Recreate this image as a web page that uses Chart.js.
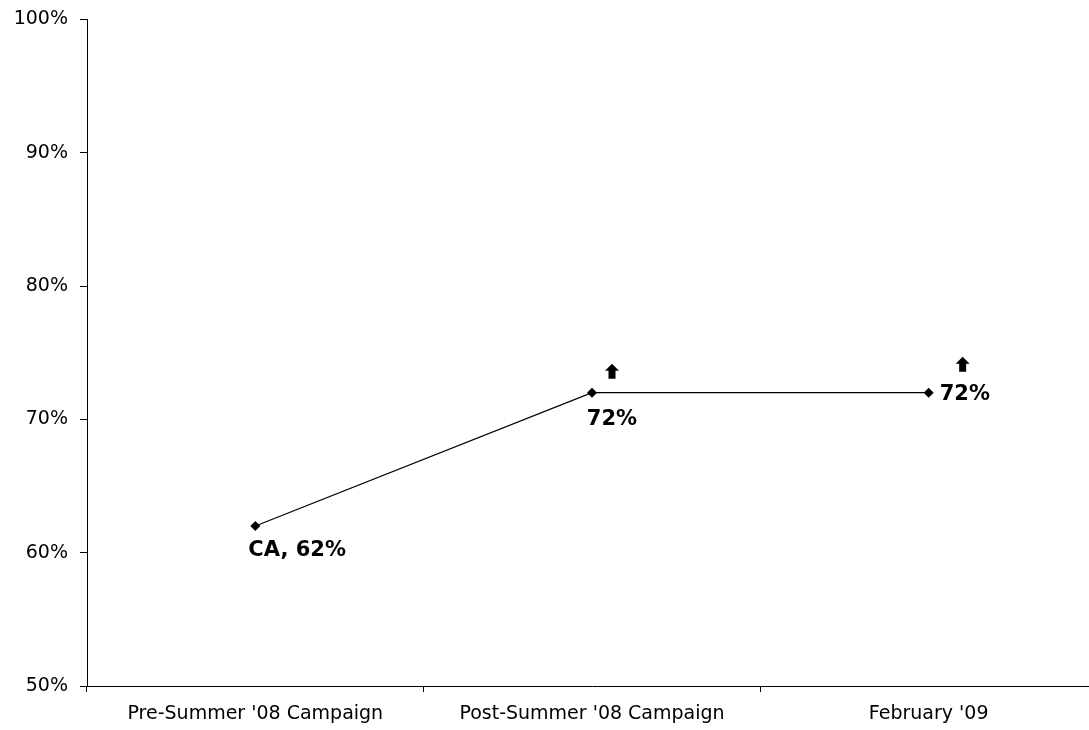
<!DOCTYPE html>
<html>
<head>
<meta charset="utf-8">
<script src="https://cdn.jsdelivr.net/npm/chart.js@4/dist/chart.umd.min.js"></script>
<style>
  html, body { margin: 0; padding: 0; background: #fff; overflow: hidden; }
  #wrap { width: 1102px; height: 734px; margin-top: -4px; }
</style>
</head>
<body>
<div id="wrap"><canvas id="lineChart"></canvas></div>
<script>
const categories = ["Pre-Summer '08 Campaign", "Post-Summer '08 Campaign", "February '09"];
const values = [62, 72, 72];
const pointLabels = ["CA, 62%", "72%", "72%"];
const upArrows = [false, true, true];
const yTicks = [50, 60, 70, 80, 90, 100];

const font = "'DejaVu Sans', sans-serif";

// text labels and little up arrows next to the points
const markPlugin = {
  id: 'marks',
  afterDatasetsDraw(chart) {
    const ctx = chart.ctx;
    const pts = chart.getDatasetMeta(0).data;
    const labelPos = [
      { dx: -7, dy: 25, align: 'left' },
      { dx: 20, dy: 27, align: 'center' },
      { dx: 11, dy: 2, align: 'left' }
    ];
    const arrowPos = [null, { dx: 20, dy: -21 }, { dx: 34, dy: -28 }];
    ctx.save();
    ctx.fillStyle = '#000';
    ctx.font = "bold 21px " + font;
    ctx.textBaseline = 'middle';
    pts.forEach((p, i) => {
      const lp = labelPos[i];
      ctx.textAlign = lp.align;
      ctx.fillText(pointLabels[i], p.x + lp.dx, p.y + lp.dy);
      if (upArrows[i]) {
        const ap = arrowPos[i];
        const cx = p.x + ap.dx, cy = p.y + ap.dy;
        ctx.beginPath();
        ctx.moveTo(cx, cy - 8);
        ctx.lineTo(cx + 7, cy - 1);
        ctx.lineTo(cx + 3.5, cy - 1);
        ctx.lineTo(cx + 3.5, cy + 7);
        ctx.lineTo(cx - 3.5, cy + 7);
        ctx.lineTo(cx - 3.5, cy - 1);
        ctx.lineTo(cx - 7, cy - 1);
        ctx.closePath();
        ctx.fill();
      }
    });
    ctx.restore();
  }
};

const lineChart = document.getElementById('lineChart');
new Chart(lineChart, {
  type: 'line',
  data: {
    labels: categories,
    datasets: [
      {
        data: values,
        borderColor: '#000',
        borderWidth: 1.3,
        backgroundColor: '#000',
        pointStyle: 'rectRot',
        pointRadius: 5,
        pointBorderWidth: 0,
        tension: 0
      }
    ]
  },
  options: {
    responsive: true,
    maintainAspectRatio: false,
    animation: false,
    layout: { padding: { top: 2, right: 0, left: 0, bottom: 0 } },
    plugins: {
      legend: { display: false },
      tooltip: { enabled: false }
    },
    scales: {
      x: {
        offset: true,
        grid: {
          offset: true,
          drawOnChartArea: false,
          drawTicks: true,
          tickLength: 6,
          color: '#000'
        },
        border: { color: '#000', width: 1 },
        ticks: {
          color: '#000',
          font: { family: font, size: 19 },
          padding: 11,
          maxRotation: 0
        },
        afterFit(scale) { scale.height = 44; }
      },
      y: {
        min: 50,
        max: 100,
        afterBuildTicks(scale) { scale.ticks = yTicks.map(v => ({ value: v })); },
        grid: {
          drawOnChartArea: false,
          drawTicks: true,
          tickLength: 7,
          color: '#000'
        },
        border: { color: '#000', width: 1 },
        ticks: {
          color: '#000',
          font: { family: font, size: 19 },
          padding: 12,
          callback: v => v + '%'
        },
        afterFit(scale) { scale.width = 87; }
      }
    }
  },
  plugins: [markPlugin]
});
</script>
</body>
</html>
